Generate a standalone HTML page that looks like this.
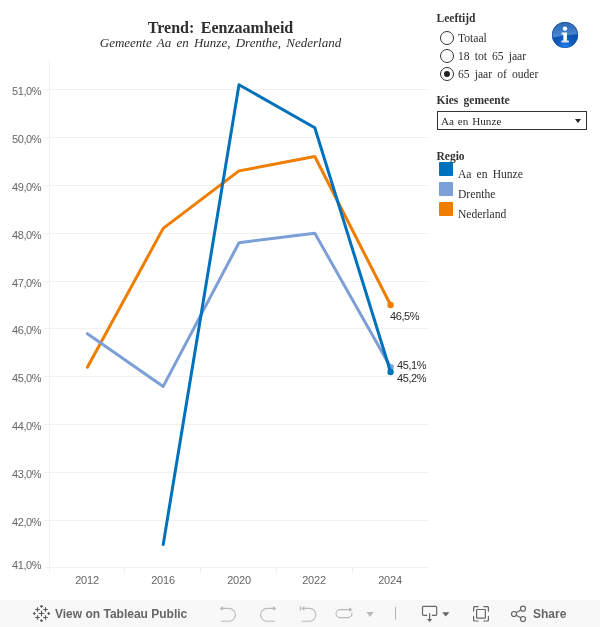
<!DOCTYPE html>
<html lang="nl">
<head>
<meta charset="utf-8">
<title>Trend: Eenzaamheid</title>
<style>
html,body{margin:0;padding:0;background:#fff;}
body{width:600px;height:627px;position:relative;overflow:hidden;font-family:"Liberation Serif",serif;color:#333;}
.abs{position:absolute;white-space:pre;}
#title{left:0;width:441px;top:18px;text-align:center;font:bold 16px/19px "Liberation Serif",serif;color:#2e2e2e;word-spacing:2.5px;}
#subtitle{left:0;width:441px;top:35px;text-align:center;font:italic 13px/15px "Liberation Serif",serif;color:#2e2e2e;word-spacing:2px;}
.ylab{left:0;width:41px;text-align:right;font:11px/12px "Liberation Sans",sans-serif;color:#666;letter-spacing:-0.45px;}
.xlab{width:60px;text-align:center;top:574px;font:11px/12px "Liberation Sans",sans-serif;color:#666;letter-spacing:-0.2px;}
.mlab{font:11px/12px "Liberation Sans",sans-serif;color:#2b2b2b;letter-spacing:-0.4px;}
.hdr{left:436.5px;font:bold 11.5px/13px "Liberation Serif",serif;color:#333;word-spacing:2.5px;}
.opt{left:458px;font:11.6px/13px "Liberation Serif",serif;color:#2e2e2e;word-spacing:2.2px;}
.radio{left:440px;width:12px;height:12px;border:1px solid #333;border-radius:50%;background:#fff;}
.radio.on::after{content:"";position:absolute;left:3px;top:3px;width:6px;height:6px;border-radius:50%;background:#222;}
#dd{left:437px;top:111px;width:148px;height:17px;border:1px solid #333;background:#fff;}
#dd span{position:absolute;left:3px;top:2px;font:11.2px/14px "Liberation Serif",serif;color:#2e2e2e;word-spacing:1px;}
#dd i{position:absolute;right:5px;top:7px;width:0;height:0;border-left:3px solid transparent;border-right:3px solid transparent;border-top:4px solid #222;}
.sw{left:439px;width:14px;height:14px;border-radius:1px;}
#toolbar{left:0;top:600px;width:600px;height:27px;background:#f8f8f8;}
#toolbar .txt{font:bold 12px/14px "Liberation Sans",sans-serif;color:#666;top:7px;}
</style>
</head>
<body>
<div id="title" class="abs">Trend: Eenzaamheid</div>
<div id="subtitle" class="abs">Gemeente Aa en Hunze, Drenthe, Nederland</div>

<svg class="abs" style="left:0;top:0" width="600" height="600" viewBox="0 0 600 600">
  <g stroke="#f1f1f1" stroke-width="1" shape-rendering="crispEdges" fill="none">
    <line x1="44" x2="428" y1="89.5" y2="89.5"/>
    <line x1="44" x2="428" y1="137.5" y2="137.5"/>
    <line x1="44" x2="428" y1="185.5" y2="185.5"/>
    <line x1="44" x2="428" y1="233.5" y2="233.5"/>
    <line x1="44" x2="428" y1="281.5" y2="281.5"/>
    <line x1="44" x2="428" y1="328.5" y2="328.5"/>
    <line x1="44" x2="428" y1="376.5" y2="376.5"/>
    <line x1="44" x2="428" y1="424.5" y2="424.5"/>
    <line x1="44" x2="428" y1="472.5" y2="472.5"/>
    <line x1="44" x2="428" y1="520.5" y2="520.5"/>
    <line x1="44" x2="428" y1="567.5" y2="567.5"/>
    <line x1="49.5" x2="49.5" y1="60" y2="573"/>
    <line x1="124.5" x2="124.5" y1="568" y2="573"/>
    <line x1="200.5" x2="200.5" y1="568" y2="573"/>
    <line x1="276.5" x2="276.5" y1="568" y2="573"/>
    <line x1="352.5" x2="352.5" y1="568" y2="573"/>
  </g>
  <g fill="none" stroke-width="3" stroke-linejoin="round" stroke-linecap="round">
    <polyline stroke="#ee7d00" points="87.4,367.2 163.2,228.4 239,170.9 314.8,156.5 390.6,305"/>
    <circle cx="390.6" cy="305" r="3.2" fill="#ee7d00" stroke="none"/>
    <polyline stroke="#7b9fd6" points="87.4,333.7 163.2,386.4 239,242.7 314.8,233.2 390.6,367.2"/>
    <circle cx="390.6" cy="367.2" r="3.2" fill="#7b9fd6" stroke="none"/>
    <polyline stroke="#0072bc" points="163.2,544.4 239,84.7 314.8,127.8 390.6,372"/>
    <circle cx="390.6" cy="372" r="3.2" fill="#0072bc" stroke="none"/>
  </g>
</svg>

<div class="abs ylab" style="top:85px">51,0%</div>
<div class="abs ylab" style="top:133px">50,0%</div>
<div class="abs ylab" style="top:181px">49,0%</div>
<div class="abs ylab" style="top:229px">48,0%</div>
<div class="abs ylab" style="top:277px">47,0%</div>
<div class="abs ylab" style="top:324px">46,0%</div>
<div class="abs ylab" style="top:372px">45,0%</div>
<div class="abs ylab" style="top:420px">44,0%</div>
<div class="abs ylab" style="top:468px">43,0%</div>
<div class="abs ylab" style="top:516px">42,0%</div>
<div class="abs ylab" style="top:559px">41,0%</div>

<div class="abs xlab" style="left:57px">2012</div>
<div class="abs xlab" style="left:133px">2016</div>
<div class="abs xlab" style="left:209px">2020</div>
<div class="abs xlab" style="left:284px">2022</div>
<div class="abs xlab" style="left:360px">2024</div>

<div class="abs mlab" style="left:390px;top:310px">46,5%</div>
<div class="abs mlab" style="left:397px;top:359px">45,1%</div>
<div class="abs mlab" style="left:397px;top:372px">45,2%</div>

<div class="abs hdr" style="top:12px">Leeftijd</div>
<div class="abs radio" style="top:31px"></div>
<div class="abs radio" style="top:49px"></div>
<div class="abs radio on" style="top:67px"></div>
<div class="abs opt" style="top:32px">Totaal</div>
<div class="abs opt" style="top:50px">18 tot 65 jaar</div>
<div class="abs opt" style="top:68px">65 jaar of ouder</div>

<svg class="abs" style="left:550px;top:20px" width="30" height="30" viewBox="0 0 30 30">
  <defs>
    <radialGradient id="ig" cx="50%" cy="100%" r="60%">
      <stop offset="0" stop-color="#2389f5"/>
      <stop offset="0.55" stop-color="#0e5cc0"/>
      <stop offset="1" stop-color="#0b4fae"/>
    </radialGradient>
    <linearGradient id="gl" x1="0" y1="0" x2="0" y2="1">
      <stop offset="0" stop-color="#2a63ae"/>
      <stop offset="1" stop-color="#4a8cd6"/>
    </linearGradient>
    <linearGradient id="iw" x1="0" y1="0" x2="0" y2="1">
      <stop offset="0" stop-color="#ffffff"/>
      <stop offset="0.6" stop-color="#f4f6f9"/>
      <stop offset="1" stop-color="#d8dde4"/>
    </linearGradient>
    <clipPath id="ic"><circle cx="15" cy="15" r="12.8"/></clipPath>
  </defs>
  <circle cx="15" cy="15" r="13" fill="url(#ig)"/>
  <path clip-path="url(#ic)" d="M0 0H30V14.2C22 14.6 10 15.6 0 18.4Z" fill="url(#gl)"/>
  <circle cx="15" cy="15" r="12.7" fill="none" stroke="#1b4c92" stroke-width="0.7" opacity="0.85"/>
  <circle cx="15" cy="8.6" r="2.2" fill="#fff"/>
  <path d="M11.6 12.4h5.4v8.2h1.8v2h-7.4v-2h1.9v-6.2h-1.7z" fill="url(#iw)"/>
</svg>

<div class="abs hdr" style="top:94px">Kies gemeente</div>
<div id="dd" class="abs"><span>Aa en Hunze</span><i></i></div>

<div class="abs hdr" style="top:150px">Regio</div>
<div class="abs sw" style="top:162px;background:#0072bc"></div>
<div class="abs sw" style="top:182px;background:#7b9fd6"></div>
<div class="abs sw" style="top:202px;background:#ee7d00"></div>
<div class="abs opt" style="top:168px">Aa en Hunze</div>
<div class="abs opt" style="top:188px">Drenthe</div>
<div class="abs opt" style="top:208px">Nederland</div>

<div id="toolbar" class="abs">
  <svg class="abs" style="left:0;top:0" width="600" height="27" viewBox="0 600 600 27">
    <!-- tableau logo -->
    <g stroke="#5a5a5a" stroke-width="1.2" fill="none" stroke-linecap="butt">
      <path d="M41.5 610.7v5.6M38.7 613.5h5.6"/>
      <path d="M37.5 607.2v4.6M35.2 609.5h4.6M45.5 607.2v4.6M43.2 609.5h4.6M37.5 615.2v4.6M35.2 617.5h4.6M45.5 615.2v4.6M43.2 617.5h4.6"/>
      <path d="M41.5 604.9v2.8M40.1 606.3h2.8M41.5 619.3000000000001v2.8M40.1 620.7h2.8M34.3 612.1v2.8M32.9 613.5h2.8M48.7 612.1v2.8M47.300000000000004 613.5h2.8"/>
    </g>
    <!-- undo -->
    <g stroke="#b9b9b9" stroke-width="1.1" fill="none">
      <path d="M221 621.2H229A6.4 6.4 0 0 0 229 608.4H222"/>
      <path d="M266.500 621.2H275M275 621.2H267A6.400 6.400 0 0 1 267 608.400H274"/>
      <path d="M301.500 621.200H309.500A6.400 6.400 0 0 0 309.500 608.400H303.500"/>
      <path d="M300.300 606V610.800"/>
      <path d="M349 609.600H340A4 4 0 0 0 340 617.600H348A4 4 0 0 0 351.800 612.600"/>
    </g>
    <g fill="#b9b9b9" stroke="none">
      <path d="M219.600 608.400L223 606V610.800Z"/>
      <path d="M276.400 608.400L273 606V610.800Z"/>
      <path d="M301.200 608.400L304.400 606V610.800Z"/>
      <path d="M352.400 609.600L349 607.300V611.900Z"/>
      <path d="M366.400 612H373.600L370 617Z"/>
    </g>
    <path d="M395.500 607V619.600" stroke="#b0b0b0" stroke-width="1" fill="none"/>
    <!-- download -->
    <g stroke="#666" stroke-width="1.2" fill="none" stroke-linejoin="round">
      <path d="M427.300 615.300H423.500A1 1 0 0 1 422.500 614.300V607.400A1 1 0 0 1 423.500 606.400H435.700A1 1 0 0 1 436.700 607.400V614.300A1 1 0 0 1 435.700 615.300H431.900"/>
      <path d="M429.600 613.200V619.600"/>
    </g>
    <path d="M427 619.100H432.200L429.600 621.900Z" fill="#666"/>
    <path d="M442.200 612.300H449.400L445.800 616.600Z" fill="#666"/>
    <!-- fullscreen -->
    <g stroke="#666" stroke-width="1.2" fill="none" stroke-linejoin="round" stroke-linecap="round">
      <path d="M473.600 611.2V607.600A1 1 0 0 1 474.600 606.600H478.2M483.8 606.600H487.400A1 1 0 0 1 488.400 607.600V611.2M488.400 616.400V620A1 1 0 0 1 487.400 621H483.8M478.2 621H474.600A1 1 0 0 1 473.600 620V616.400"/>
      <rect x="476.600" y="609.500" width="8.800" height="8.700" rx="0.800"/>
    </g>
    <!-- share -->
    <g stroke="#666" stroke-width="1.2" fill="none">
      <circle cx="514" cy="614" r="2.500"/>
      <circle cx="523" cy="608.700" r="2.500"/>
      <circle cx="523" cy="619" r="2.500"/>
      <path d="M516.200 612.700L520.800 610M516.200 615.200L520.800 617.800"/>
    </g>
  </svg>
  <div class="abs txt" style="left:55px">View on Tableau Public</div>
  <div class="abs txt" style="left:533px">Share</div>
</div>
</body>
</html>
